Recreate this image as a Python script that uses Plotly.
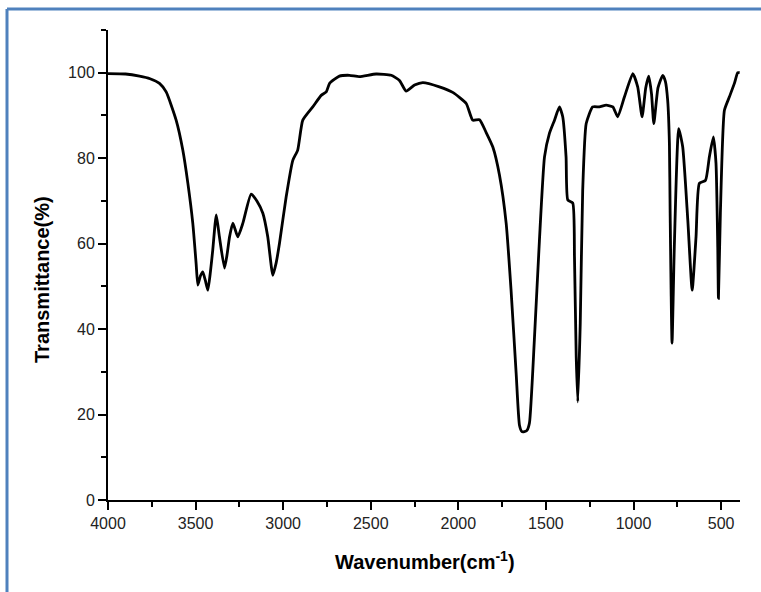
import plotly.graph_objects as go

# FT-IR spectrum: wavenumber (cm^-1) vs transmittance (%)
wavenumber = [
    4000, 3900, 3820, 3760, 3706, 3668, 3611, 3573, 3544, 3516, 3497, 3487,
    3472, 3459, 3445, 3430, 3415, 3402, 3382, 3364, 3335, 3320, 3306, 3287,
    3259, 3230, 3183, 3150, 3116, 3088, 3059, 3040, 3021, 2983, 2945, 2917,
    2888, 2831, 2783, 2754, 2735, 2679, 2622, 2565, 2469, 2383, 2336, 2298,
    2250, 2203, 2108, 2032, 1955, 1918, 1879, 1841, 1803, 1765, 1727, 1699,
    1670, 1651, 1637, 1623, 1608, 1594, 1566, 1537, 1508, 1480, 1451, 1423,
    1404, 1385, 1375, 1347, 1337, 1327, 1318, 1304, 1290, 1270, 1233, 1195,
    1156, 1118, 1090, 1052, 1004, 976, 951, 930, 913, 897, 884, 860, 833,
    818, 805, 795, 791, 780, 767, 742, 719, 690, 665, 643, 624, 589, 567,
    544, 529, 519, 515, 504, 481, 453, 424, 405, 394,
]
transmittance = [
    99.8, 99.7, 99.2, 98.6, 97.5, 95.5, 88.9, 81.9, 74.1, 64.8, 55.4, 50.3,
    52.5, 53.4, 51.5, 49.1, 53.5, 58.5, 66.7, 61.6, 54.3, 57.5, 61.6, 64.8,
    61.6, 64.8, 71.6, 70.0, 67.1, 61.6, 52.6, 55.5, 60.1, 70.9, 79.5, 81.9,
    88.9, 92.0, 94.7, 95.5, 97.5, 99.2, 99.4, 99.1, 99.7, 99.4, 98.2, 95.7,
    97.1, 97.7, 96.7, 95.4, 92.8, 88.9, 89.0, 86.0, 82.6, 76.0, 64.8, 49.1,
    29.7, 17.5, 16.0, 16.0, 16.3, 18.0, 37.4, 60.8, 80.3, 85.8, 88.9, 92.0,
    89.7, 80.3, 70.2, 69.5, 56.9, 33.5, 23.0, 41.4, 72.5, 88.1, 92.0, 92.0,
    92.4, 92.0, 89.7, 94.3, 99.8, 96.7, 89.7, 96.5, 99.2, 95.0, 88.1, 96.5,
    99.4, 98.0, 93.6, 83.4, 67.8, 36.7, 59.2, 86.9, 82.6, 65.5, 49.1, 61.6,
    74.1, 74.8, 80.3, 85.0, 78.8, 59.2, 47.2, 67.1, 91.2, 94.3, 97.5, 100.0,
    100.0,
]

x_range = [4000, 392]
y_range = [0, 110]
x_ticks = [4000, 3500, 3000, 2500, 2000, 1500, 1000, 500]
y_ticks = [0, 20, 40, 60, 80, 100]

W, H = 761, 592
L, R, T, B = 108, 21, 30, 92
pw, ph = W - L - R, H - T - B


def px(x):
    return (x - L) / pw


def py(y):
    return (H - B - y) / ph


fig = go.Figure()
fig.add_trace(go.Scatter(
    x=wavenumber, y=transmittance, mode="lines",
    line=dict(color="black", width=2.8, shape="spline", smoothing=0.5),
    showlegend=False, hoverinfo="skip",
))

tick_font = dict(family="Liberation Sans, Arial, sans-serif", size=16, color="#222")
axis_common = dict(
    showgrid=False, zeroline=False, showline=True, linecolor="black", linewidth=2,
    ticks="outside", ticklen=8, tickwidth=2, tickcolor="black",
    tickfont=tick_font, mirror=False,
)
fig.update_xaxes(
    range=x_range, tickvals=x_ticks, ticktext=[str(v) for v in x_ticks],
    minor=dict(ticks="outside", ticklen=5, tickwidth=2, tickcolor="black", dtick=250, tick0=0),
    **axis_common,
)
fig.update_yaxes(
    range=y_range, tickvals=y_ticks, ticktext=[str(v) for v in y_ticks],
    minor=dict(ticks="outside", ticklen=5, tickwidth=2, tickcolor="black", dtick=10, tick0=0),
    **axis_common,
)

title_font = dict(family="Liberation Sans, Arial, sans-serif", size=20, color="black")
fig.add_annotation(
    text="<b>Wavenumber(cm<sup>-1</sup>)</b>", xref="paper", yref="paper",
    x=px(425), y=py(560), showarrow=False, font=title_font,
    xanchor="center", yanchor="middle",
)
fig.add_annotation(
    text="<b>Transmittance(%)</b>", xref="paper", yref="paper",
    x=px(42), y=py(280), showarrow=False, font=title_font, textangle=-90,
    xanchor="center", yanchor="middle",
)

# Frame border around the figure panel
border = dict(color="#4f81bd", width=3)
fig.add_shape(type="line", xref="paper", yref="paper",
              x0=px(7), x1=px(765), y0=py(9), y1=py(9), line=border)
fig.add_shape(type="line", xref="paper", yref="paper",
              x0=px(7), x1=px(7), y0=py(9), y1=py(600), line=border)

fig.update_layout(
    width=W, height=H,
    margin=dict(l=L, r=R, t=T, b=B),
    paper_bgcolor="white", plot_bgcolor="white",
)

fig.write_html("out.html")
